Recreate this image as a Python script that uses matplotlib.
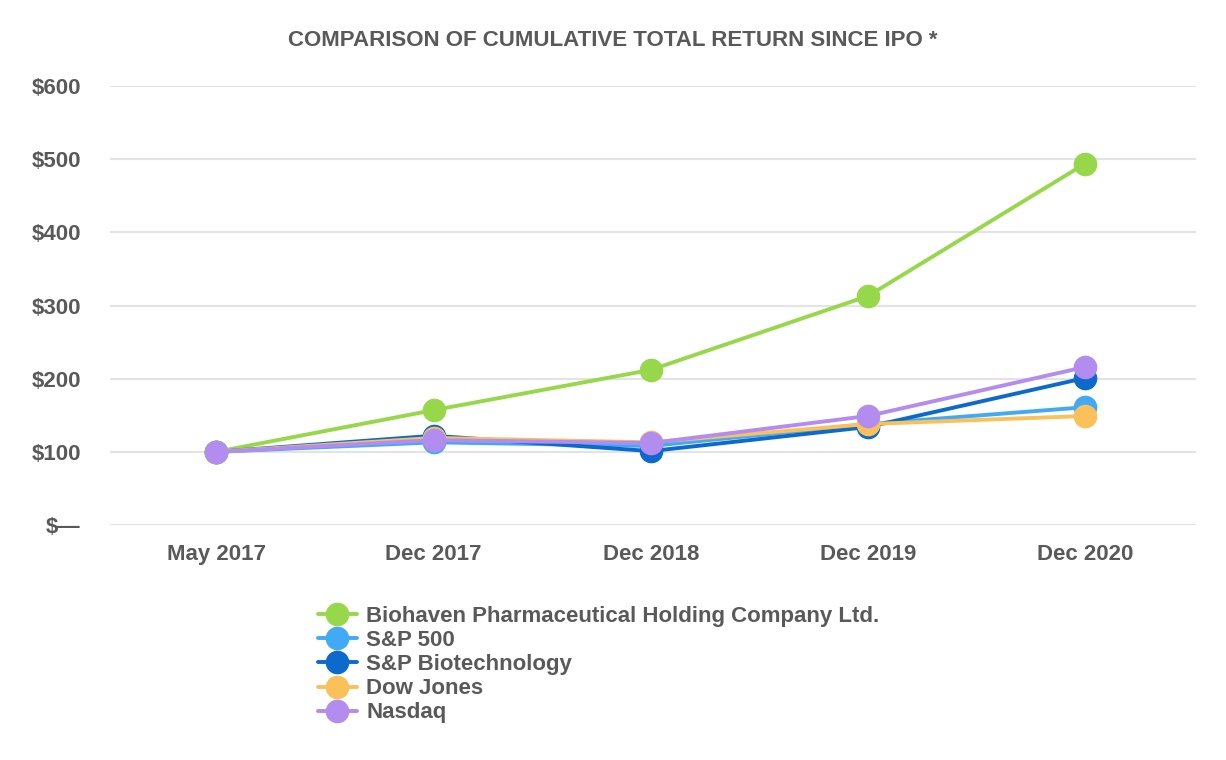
import matplotlib
matplotlib.use("Agg")
import matplotlib.pyplot as plt

categories = ["May 2017", "Dec 2017", "Dec 2018", "Dec 2019", "Dec 2020"]
biohaven = [100, 157, 212, 313, 494]
sp500 = [100, 113, 108, 138, 161]
sp_biotech = [100, 122, 101, 134, 201]
dow_jones = [100, 119, 113, 138, 149]
nasdaq = [100, 116, 112, 149, 216]
series_names = ["Biohaven Pharmaceutical Holding Company Ltd.", "S&P 500",
                "S&P Biotechnology", "Dow Jones", "Nasdaq"]
yticks = [0, 100, 200, 300, 400, 500, 600]
ytick_labels = ["$\u2014", "$100", "$200", "$300", "$400", "$500", "$600"]
title = "COMPARISON OF CUMULATIVE TOTAL RETURN SINCE IPO *"

colors = ["#97D84B", "#42AAF5", "#0B6ACB", "#FAC15A", "#B38CEF"]
plt.rcParams['font.family'] = ['Liberation Sans', 'DejaVu Sans']
text_color = "#595959"

fig = plt.figure(figsize=(12.26, 7.6), dpi=100)
ax = fig.add_axes([110/1226, 1-525/760, (1196-110)/1226, (525-86)/760])

x = list(range(len(categories)))
for vals, name, c in zip([biohaven, sp500, sp_biotech, dow_jones, nasdaq], series_names, colors):
    ax.plot(x, vals, color=c, lw=2.8, marker='o', markersize=16, label=name,
            solid_capstyle='round')

ax.set_xlim(-0.49, 4.51)
ax.set_ylim(0, 600)
ax.set_yticks(yticks)
ax.set_yticklabels(ytick_labels)
ax.set_xticks(x)
ax.set_xticklabels(categories)
ax.grid(axis='y', color='#E3E3E3', lw=1.5)
ax.set_axisbelow(True)
for s in ax.spines.values():
    s.set_visible(False)
ax.tick_params(length=0, labelsize=16, labelcolor=text_color)
for lab in ax.get_xticklabels() + ax.get_yticklabels():
    lab.set_fontweight('bold')
ax.tick_params(axis='y', pad=21)
ax.tick_params(axis='x', pad=14)

fig.text(0.5, 1-41/760, title, ha='center', va='center', fontsize=16,
         fontweight='bold', color=text_color)

leg = fig.legend(loc='upper left', bbox_to_anchor=(318/1226, 1-606/760), frameon=False,
                 prop={'size': 16, 'weight': 'bold'}, labelspacing=0.14,
                 handlelength=1.75, handletextpad=0.42, borderaxespad=0, borderpad=0,
                 markerscale=1.0)
for t in leg.get_texts():
    t.set_color(text_color)

fig.savefig("out.png", dpi=100, facecolor='white')
